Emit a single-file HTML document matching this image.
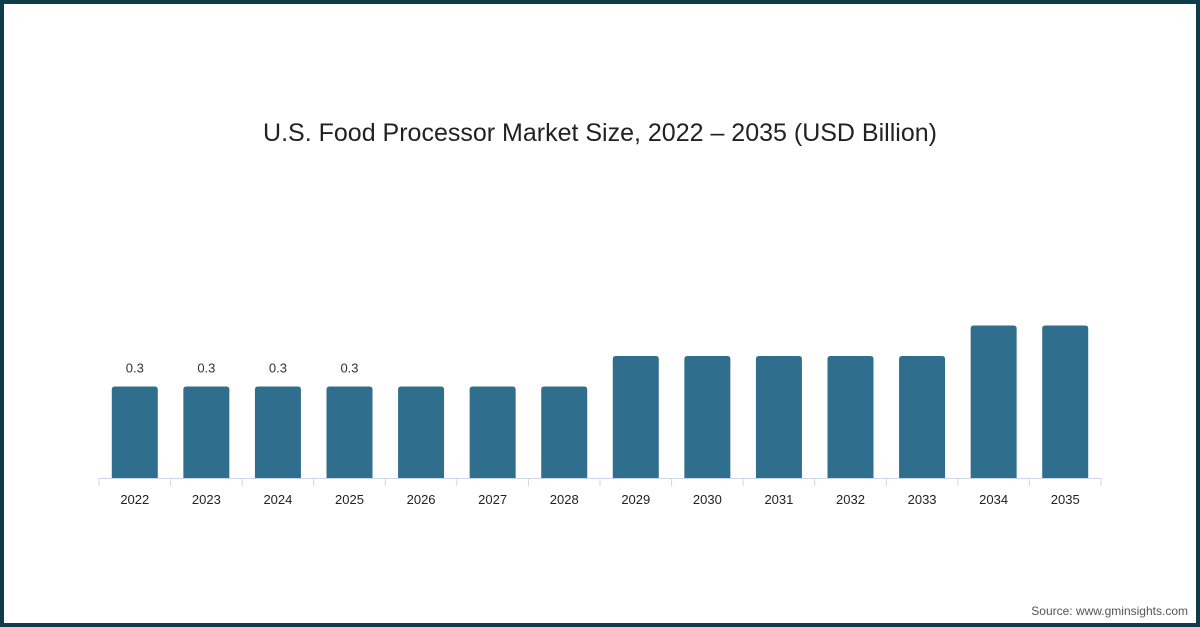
<!DOCTYPE html>
<html><head><meta charset="utf-8"><style>
html,body{margin:0;padding:0}
body{width:1200px;height:627px;position:relative;background:#fff;font-family:"Liberation Sans",sans-serif;overflow:hidden}
#frame{position:absolute;left:0;top:0;width:1192px;height:619px;border:4px solid #0d3c4b}
#title{position:absolute;left:0;width:1200px;top:119px;text-align:center;font-size:25px;color:#222}
#source{position:absolute;right:12px;top:604px;font-size:12px;color:#555}
</style></head><body>
<div id="frame"></div>
<div id="title">U.S. Food Processor Market Size, 2022 – 2035 (USD Billion)</div>
<svg id="chart" width="1200" height="627" style="position:absolute;left:0;top:0"></svg>
<div id="source">Source: www.gminsights.com</div>
<script>
const categories=["2022","2023","2024","2025","2026","2027","2028","2029","2030","2031","2032","2033","2034","2035"];
const values=[0.3,0.3,0.3,0.3,0.3,0.3,0.3,0.4,0.4,0.4,0.4,0.4,0.5,0.5];
const labels=["0.3","0.3","0.3","0.3","","","","","","","","","",""];
const svg=document.getElementById('chart');
const NS='http://www.w3.org/2000/svg';
const x0=99,x1=1101,base=478,pxPer=305;
const step=(x1-x0)/categories.length;
const xc=i=>x0+step*(i+0.5);
const y=v=>base-v*pxPer;
function mk(t,a){const e=document.createElementNS(NS,t);for(const k in a)e.setAttribute(k,a[k]);svg.appendChild(e);return e;}
const ax=mk('line',{x1:x0,x2:x1,y1:base+0.5,y2:base+0.5,stroke:'#ccd6eb','stroke-width':1});


for(let i=0;i<=categories.length;i++){
 const t=mk('line',{x1:x0+step*i,x2:x0+step*i,y1:base,y2:base+8,stroke:'#ccd6eb'});
 
 
}
categories.forEach((c,i)=>{
 const w=46,top=y(values[i]);
 const r=mk('path',{d:`M${xc(i)-w/2},${base} V${top+3} Q${xc(i)-w/2},${top} ${xc(i)-w/2+3},${top} H${xc(i)+w/2-3} Q${xc(i)+w/2},${top} ${xc(i)+w/2},${top+3} V${base} Z`,fill:'#2f6e8c'});
 
 
 const t=mk('text',{x:xc(i),y:504,'text-anchor':'middle','font-size':13,fill:'#222','font-family':'Liberation Sans, sans-serif'});
 t.textContent=c;
 
 
 if(labels[i]){
  const l=mk('text',{x:xc(i),y:top-14,'text-anchor':'middle','font-size':13,fill:'#333','font-family':'Liberation Sans, sans-serif'});
  l.textContent=labels[i];
  
  
 }
});
</script>
</body></html>
